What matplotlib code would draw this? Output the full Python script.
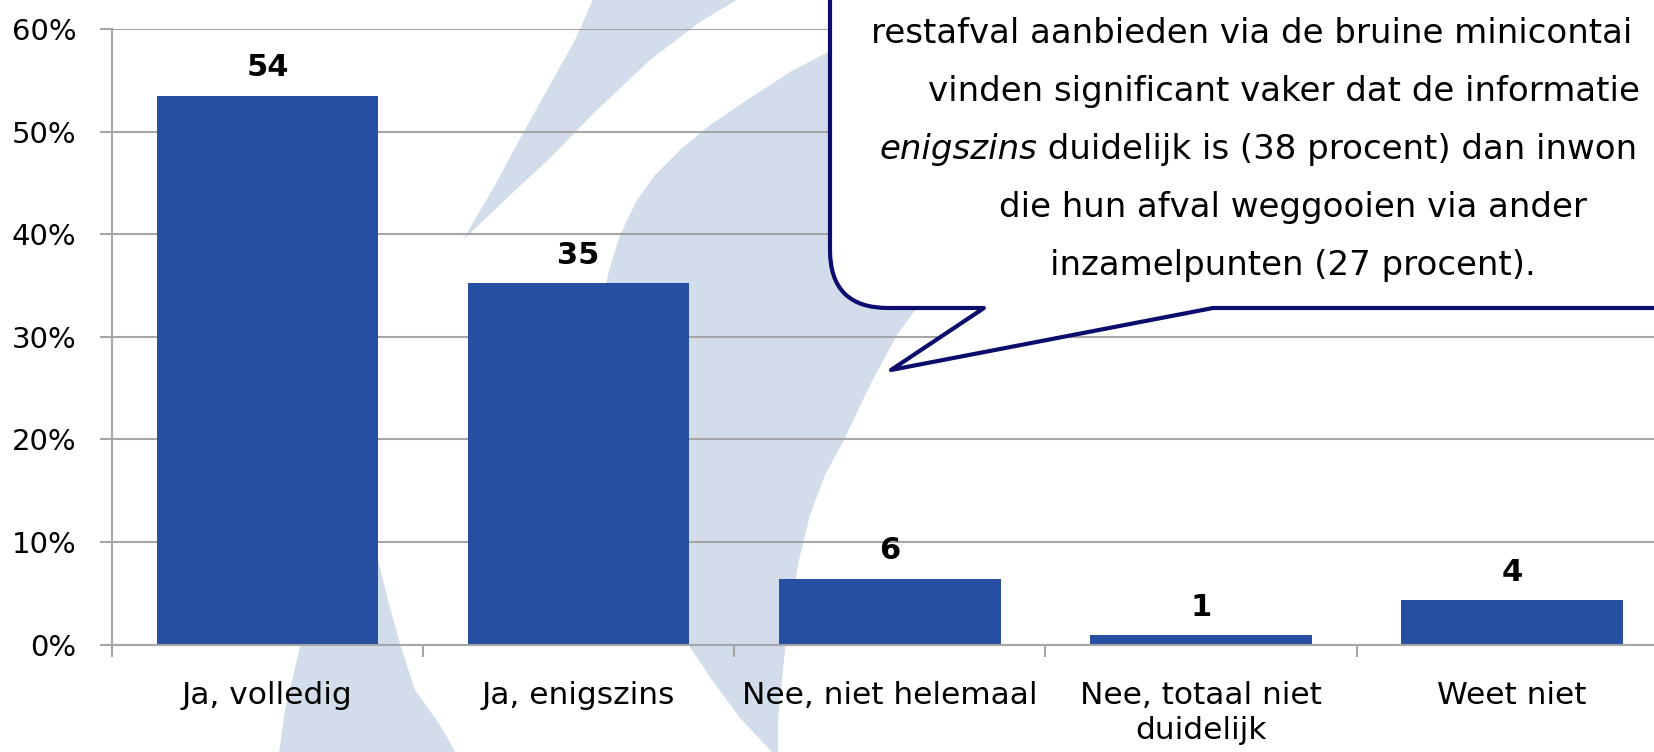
import matplotlib
matplotlib.use('Agg')
import matplotlib.pyplot as plt
from matplotlib.patches import Polygon, PathPatch
from matplotlib.path import Path

# === DATI ===
categories = ['Ja, volledig', 'Ja, enigszins', 'Nee, niet helemaal',
              'Nee, totaal niet\nduidelijk', 'Weet niet']
values = [53.5, 35.2, 6.4, 0.9, 4.3]
value_labels = ['54', '35', '6', '1', '4']
yticks = [0, 10, 20, 30, 40, 50, 60]

# testo del fumetto, come visibile nell'immagine (tagliato a destra)
callout_left_lines = [
    'restafval aanbieden via de bruine minicontai',
    'vinden significant vaker dat de informatie',
]
callout_italic = 'enigszins'
callout_rest = ' duidelijk is (38 procent) dan inwon'
callout_center_lines = [
    'die hun afval weggooien via ander',
    'inzamelpunten (27 procent).',
]

# === STILE ===
W, H = 1654, 752
bar_color = '#264FA2'
grid_color = '#A5A5A5'
navy = '#0C0C6C'
watermark = '#D3DCEB'

plt.rcParams['font.family'] = ['DejaVu Sans']


def px(pts):
    # pixel (origine in alto a sinistra) -> coordinate figura
    return [(x / W, 1 - y / H) for x, y in pts]


fig = plt.figure(figsize=(W / 100, H / 100), dpi=100)
fig.patch.set_facecolor('white')

# === FILIGRANA (logo sullo sfondo) ===
blade = [(595, -5), (575, 40), (550, 85), (522, 135), (495, 185), (463, 240),
         (505, 200), (548, 160), (595, 112), (650, 60), (700, 22), (745, -5)]
crescent = [(900, 10), (850, 40), (828, 52), (790, 72), (747, 100), (710, 125),
            (680, 150), (655, 175), (637, 200), (620, 235), (610, 267), (602, 300),
            (600, 330), (598, 380), (602, 430), (612, 480), (630, 530), (650, 575),
            (670, 612), (690, 647), (712, 680), (740, 718), (772, 752), (776, 760),
            (778, 760), (778, 720), (782, 680), (786, 640), (792, 600), (799, 560),
            (810, 515), (825, 475), (844, 440), (870, 385), (897, 335), (930, 290),
            (980, 240), (1050, 180), (1050, 10)]
tail = [(365, 420), (340, 500), (318, 580), (300, 647), (285, 710), (278, 760),
        (460, 760), (440, 725), (415, 690), (400, 644), (388, 600), (378, 560),
        (372, 500), (368, 440)]
for shape in (blade, crescent, tail):
    fig.add_artist(Polygon(px(shape), closed=True, transform=fig.transFigure,
                           facecolor=watermark, edgecolor='none', zorder=-1))

# === GRAFICO ===
ax_left = 111.8 / W
ax_bottom = (H - 644.5) / H
ax_w = 5 * 311.2 / W
ax_h = (644.5 - 29) / H
ax = fig.add_axes([ax_left, ax_bottom, ax_w, ax_h])
ax.set_facecolor('none')

x = list(range(len(categories)))
ax.bar(x, values, width=0.712, color=bar_color, zorder=2)

for i, (v, lbl) in enumerate(zip(values, value_labels)):
    ax.annotate(lbl, (i, v), xytext=(0, 14), textcoords='offset points',
                ha='center', va='baseline', fontsize=22, fontweight='bold')

ax.set_xlim(-0.5, len(categories) - 0.5)
ax.set_ylim(0, 60)
ax.set_yticks(yticks)
ax.set_yticklabels([f'{t}%' for t in yticks])
ax.set_xticks(x)
ax.set_xticklabels(categories, linespacing=1.27)
ax.set_xticks([i - 0.5 for i in range(len(categories) + 1)], minor=True)

ax.set_axisbelow(True)
ax.grid(axis='y', color=grid_color, linewidth=1.5)
for s in ['top', 'right']:
    ax.spines[s].set_visible(False)
for s in ['left', 'bottom']:
    ax.spines[s].set_color(grid_color)
    ax.spines[s].set_linewidth(1.5)

ax.tick_params(axis='y', length=8.6, width=1.5, color=grid_color,
               labelsize=21, pad=17)
ax.tick_params(axis='x', which='major', length=0, labelsize=22.5, pad=26)
ax.tick_params(axis='x', which='minor', length=8.6, width=1.5, color=grid_color)

# === CALLOUT ===
L, B, r = 830, 308, 58
verts = [(891, 370), (1213, B), (1760, B), (1760, -60), (L, -60), (L, B - r),
         (L, B), (L + r, B), (984, B), (891, 370)]
codes = [Path.MOVETO, Path.LINETO, Path.LINETO, Path.LINETO, Path.LINETO,
         Path.LINETO, Path.CURVE3, Path.CURVE3, Path.LINETO, Path.CLOSEPOLY]
callout = PathPatch(Path(px(verts), codes), transform=fig.transFigure,
                    facecolor='white', edgecolor=navy, linewidth=3,
                    joinstyle='round', zorder=4)
fig.add_artist(callout)

fs = 24.5
cx = 1293
baselines = [43, 101, 159, 217, 275]

# righe tagliate: allineate a sinistra dove iniziano nell'originale
for line, x0, yb in zip(callout_left_lines, [871, 928], baselines[:2]):
    fig.text(x0 / W, 1 - yb / H, line, ha='left', va='baseline',
             fontsize=fs, zorder=5)

yb = baselines[2]
t_it = fig.text(879 / W, 1 - yb / H, callout_italic, style='italic', ha='left',
                va='baseline', fontsize=fs, zorder=5)
renderer = fig.canvas.get_renderer()
w_it = t_it.get_window_extent(renderer).width
fig.text((879 + w_it) / W, 1 - yb / H, callout_rest, ha='left',
         va='baseline', fontsize=fs, zorder=5)

for line, yb in zip(callout_center_lines, baselines[3:]):
    fig.text(cx / W, 1 - yb / H, line, ha='center', va='baseline',
             fontsize=fs, zorder=5)

fig.savefig('out.png', dpi=100)
